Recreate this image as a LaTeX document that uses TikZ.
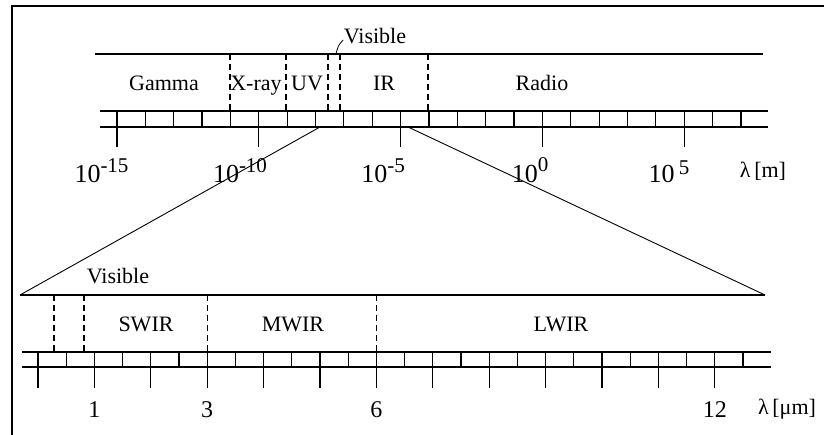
\documentclass[tikz,border=0pt]{standalone}
\usepackage{fontspec}
\setmainfont{Liberation Serif}
\usepackage{graphicx}
\begin{document}
\begin{tikzpicture}[x=1pt,y=-1pt,
  axisline/.style={line width=1.2pt},
  tickline/.style={line width=1.2pt},
  bandline/.style={line width=1.3pt, dash pattern=on 6pt off 4pt},
  zoomline/.style={line width=0.9pt},
  border/.style={line width=2pt},
  lab/.style={font=\fontsize{22}{22}\selectfont, anchor=base, inner sep=0pt},
  num/.style={font=\fontsize{26}{26}\selectfont, anchor=base, inner sep=0pt},
  dig/.style={font=\fontsize{24}{24}\selectfont, anchor=base, inner sep=0pt},
]
\useasboundingbox (0,0) rectangle (824,435);
% frame
\draw[border] (12,435) -- (12,6) -- (824,6);

% ===== top scale =====
\draw[axisline] (95,54) -- (763,54);
\draw[axisline] (100,111) -- (768,111);
\draw[axisline] (100,127) -- (768,127);
\foreach \k in {0,...,22} {
  \draw[tickline] ({117+28.36*\k},111) -- ({117+28.36*\k},127);
}
\foreach \k in {0,5,10,15,20} {
  \draw[tickline] ({117+28.36*\k},127) -- ({117+28.36*\k},147);
}
\foreach \x in {230,286,328,340,428} {
  \draw[bandline] (\x,54) -- (\x,111);
}
\draw[line width=0.8pt] (336,54) .. controls (338,46) .. (343,40);

\node[lab] (vistop) at (375,44) {Visible};
\node[lab] (gamma) at (164,91) {Gamma};
\node[lab] (xray) at (256,91) {X-ray};
\node[lab] (uv) at (307,91) {UV};
\node[lab] (ir) at (384,91) {IR};
\node[lab] (radio) at (542,91) {Radio};

\node[num] (m15) at (101.5,183) {10\raisebox{10pt}{\fontsize{21}{21}\selectfont -15}};
\node[num] (m10) at (240,183) {10\raisebox{10pt}{\fontsize{21}{21}\selectfont -10}};
\node[num] (m5) at (383,183) {10\raisebox{10pt}{\fontsize{21}{21}\selectfont -5}};
\node[num] (p0) at (530,183) {10\raisebox{11pt}{\fontsize{21}{21}\selectfont 0}};
\node[num] (p5) at (669,183) {10\,\raisebox{8pt}{\fontsize{21}{21}\selectfont 5}};
\node[lab] (lm) at (763,178) {λ\,[m]};

% ===== zoom lines =====
\coordinate (zl1) at (320,127);
\coordinate (zr1) at (408,127);
\coordinate (zl2) at (20,295);
\coordinate (zr2) at (765,295);
\draw[zoomline] (zl1) -- (zl2);
\draw[zoomline] (zr1) -- (zr2);

% ===== bottom scale =====
\draw[axisline] (zl2) -- (zr2);
\draw[axisline] (22,352) -- (771,352);
\draw[axisline] (22,367) -- (771,367);
\foreach \k in {0,...,25} {
  \draw[tickline] ({38+28.2*\k},352) -- ({38+28.2*\k},367);
}
\foreach \k in {0,2,...,24} {
  \draw[tickline] ({38+28.2*\k},367) -- ({38+28.2*\k},388);
}
\foreach \x in {54,84,207.2,376.4} {
  \draw[bandline] (\x,295) -- (\x,352);
}

\node[lab] (visbot) at (118,284) {Visible};
\node[lab] (swir) at (146,331) {SWIR};
\node[lab] (mwir) at (293,331) {MWIR};
\node[lab] (lwir) at (561,331) {LWIR};

\node[dig] (u1) at (94.4,417) {1};
\node[dig] (u3) at (207.2,417) {3};
\node[dig] (u6) at (376.4,417) {6};
\node[dig] (u12) at (714.8,417) {12};
\node[lab] (lum) at (787,414) {λ\,[μm]};
\end{tikzpicture}
\end{document}
